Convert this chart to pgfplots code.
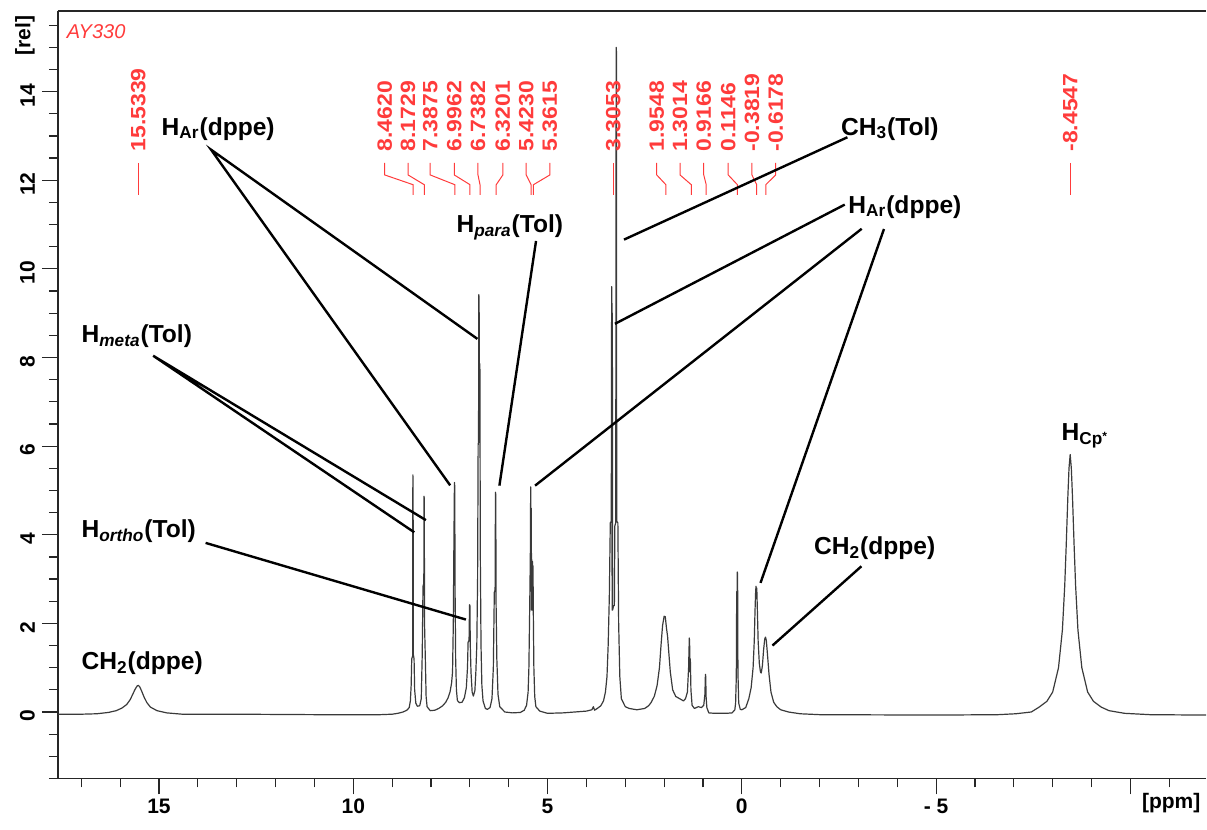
\documentclass[border=0pt]{standalone}
\usepackage{pgfplots}
\pgfplotsset{compat=1.18}
\usepackage{fontspec}
\setmainfont{Liberation Sans}
\definecolor{spec}{HTML}{3A3A3A}
\definecolor{pk}{HTML}{FF3B3B}
\newcommand{\pklab}[3]{%
  \draw[pk, line width=0.5pt] (axis cs:#1,12.39) -- (axis cs:#1,12.12) -- (axis cs:#2,11.90) -- (axis cs:#2,11.67);
  \node[pk, rotate=90, anchor=west, inner sep=0pt, font=\fontsize{11.5}{12}\selectfont\bfseries] at (axis cs:#1,12.64) {\scalebox{1}[0.9]{#3}};}
\newcommand{\lab}{\fontsize{12.3}{14}\selectfont\bfseries}
\begin{document}
\begin{tikzpicture}
\begin{axis}[
  width=574.5pt, height=384pt, scale only axis,
  xmin=-11.95, xmax=17.6, x dir=reverse,
  ymin=-1.5, ymax=15.82,
  axis x line*=bottom, axis y line*=left,
  axis line style={-, line width=0.7pt, color=black!85},
  tick align=outside,
  major tick length=8pt, minor tick length=4.5pt,
  tick style={line width=0.6pt, color=black!85},
  xtick={15,10,5,0,-5,-10},
  xticklabels={15,10,5,0,- 5,{}},
  minor xtick={-11,-10,...,17},
  ytick={0,2,...,14},
  yticklabels={0,2,4,6,8,10,12,14},
  minor ytick={-1.5,-1,...,15.5},
  ticklabel style={font=\fontsize{10.5}{12}\selectfont\bfseries},
  xticklabel style={yshift=1.2pt},
  yticklabel style={rotate=90, anchor=south, xshift=-2pt},
  clip=false,
]
\addplot[spec, line width=0.6pt, line join=round] coordinates {
(17.6,-0.05)(17.0,-0.05)(16.6,-0.04)(16.3,-0.01)(16.1,0.03)(15.95,0.09)(15.83,0.17)(15.74,0.28)(15.67,0.41)(15.61,0.52)(15.56,0.59)(15.53,0.6)(15.49,0.56)(15.44,0.46)(15.38,0.33)(15.31,0.21)(15.22,0.11)(15.05,0.03)(14.8,-0.02)(14.4,-0.05)(13.0,-0.05)(11.0,-0.06)(9.3,-0.06)(9.0,-0.05)(8.85,-0.03)(8.72,0.0)(8.62,0.04)(8.56,0.1)(8.53,0.25)(8.51,0.6)(8.495,1.2)(8.472,1.26)(8.466,5.35)(8.46,5.2)(8.454,1.3)(8.435,1.2)(8.42,0.5)(8.39,0.2)(8.35,0.13)(8.29,0.14)(8.25,0.3)(8.225,1.3)(8.205,2.84)(8.184,2.9)(8.178,4.87)(8.172,4.8)(8.166,2.0)(8.145,1.2)(8.125,0.35)(8.10,0.12)(8.02,0.03)(7.9,0.04)(7.8,0.08)(7.7,0.14)(7.62,0.22)(7.56,0.32)(7.51,0.45)(7.47,0.65)(7.445,0.9)(7.425,2.0)(7.41,3.8)(7.396,5.18)(7.389,5.1)(7.378,2.6)(7.365,1.2)(7.345,0.5)(7.32,0.26)(7.27,0.21)(7.2,0.22)(7.14,0.32)(7.09,0.55)(7.06,1.0)(7.045,1.57)(7.02,1.62)(7.007,2.42)(6.998,2.4)(6.988,1.5)(6.97,0.9)(6.94,0.45)(6.91,0.36)(6.87,0.48)(6.845,0.9)(6.82,1.52)(6.80,3.0)(6.786,6.03)(6.776,6.1)(6.768,9.42)(6.761,9.3)(6.754,7.0)(6.748,7.87)(6.741,7.8)(6.73,3.5)(6.712,1.5)(6.69,0.6)(6.66,0.25)(6.6,0.08)(6.55,0.06)(6.48,0.1)(6.43,0.3)(6.395,1.0)(6.37,2.7)(6.35,2.75)(6.34,4.96)(6.332,4.9)(6.325,2.5)(6.305,1.2)(6.275,0.4)(6.23,0.12)(6.1,0.0)(5.9,-0.02)(5.7,-0.01)(5.6,0.04)(5.54,0.15)(5.5,0.45)(5.48,1.0)(5.46,2.3)(5.443,3.5)(5.434,5.08)(5.426,3.0)(5.419,4.6)(5.411,2.3)(5.404,3.44)(5.396,2.3)(5.389,3.4)(5.381,2.3)(5.374,3.3)(5.366,2.24)(5.352,1.0)(5.33,0.35)(5.30,0.12)(5.2,0.02)(5.0,-0.03)(4.6,-0.02)(4.3,0.0)(4.0,0.02)(3.86,0.05)(3.82,0.12)(3.79,0.04)(3.72,0.08)(3.63,0.14)(3.56,0.25)(3.51,0.45)(3.47,0.8)(3.44,1.5)(3.41,2.6)(3.385,4.27)(3.36,4.3)(3.35,9.6)(3.344,9.5)(3.338,2.3)(3.332,9.0)(3.326,2.3)(3.30,2.4)(3.28,2.4)(3.268,4.2)(3.245,4.27)(3.234,15.0)(3.227,14.9)(3.22,4.3)(3.19,4.27)(3.17,2.0)(3.14,0.8)(3.1,0.3)(3.0,0.12)(2.9,0.08)(2.7,0.05)(2.5,0.08)(2.4,0.14)(2.33,0.22)(2.25,0.36)(2.18,0.6)(2.12,1.0)(2.08,1.5)(2.04,1.95)(2.0,2.16)(1.97,2.15)(1.94,1.9)(1.91,1.7)(1.88,1.35)(1.84,0.9)(1.78,0.5)(1.7,0.35)(1.6,0.3)(1.5,0.25)(1.45,0.3)(1.40,0.45)(1.37,1.0)(1.352,1.67)(1.344,1.6)(1.336,0.9)(1.325,1.2)(1.31,0.5)(1.28,0.15)(1.22,0.08)(1.12,0.12)(1.04,0.1)(0.98,0.15)(0.95,0.4)(0.937,0.85)(0.929,0.8)(0.92,0.35)(0.9,0.1)(0.85,-0.02)(0.7,-0.03)(0.4,-0.03)(0.25,-0.02)(0.18,0.05)(0.16,0.2)(0.142,0.8)(0.132,2.72)(0.126,2.7)(0.12,1.0)(0.116,3.16)(0.109,3.1)(0.1,0.9)(0.08,0.2)(0.04,0.06)(0.0,0.05)(-0.1,0.1)(-0.18,0.3)(-0.24,0.55)(-0.29,1.0)(-0.32,1.6)(-0.34,2.3)(-0.355,2.7)(-0.365,2.84)(-0.375,2.72)(-0.385,2.8)(-0.4,2.3)(-0.42,1.6)(-0.45,1.1)(-0.48,0.9)(-0.5,0.88)(-0.53,1.05)(-0.56,1.4)(-0.59,1.65)(-0.61,1.69)(-0.63,1.62)(-0.66,1.3)(-0.7,0.85)(-0.75,0.45)(-0.82,0.22)(-0.9,0.12)(-1.0,0.05)(-1.2,0.0)(-1.5,-0.04)(-2.0,-0.06)(-5.0,-0.07)(-6.6,-0.06)(-7.05,-0.04)(-7.45,0.0)(-7.65,0.11)(-7.85,0.24)(-8.0,0.45)(-8.15,1.0)(-8.25,1.85)(-8.31,2.85)(-8.35,3.8)(-8.39,4.85)(-8.42,5.5)(-8.45,5.81)(-8.48,5.5)(-8.51,4.85)(-8.55,3.8)(-8.59,2.85)(-8.65,1.85)(-8.75,1.0)(-8.9,0.45)(-9.05,0.24)(-9.25,0.11)(-9.45,0.03)(-9.85,-0.03)(-10.5,-0.06)(-11.95,-0.07)
};
% top border
\draw[line width=0.7pt, black!85] (rel axis cs:0,1) -- (rel axis cs:1,1);
% peak-pick labels
\pklab{15.5339}{15.5339}{15.5339}
\pklab{9.19}{8.462}{8.4620}
\pklab{8.59}{8.1729}{8.1729}
\pklab{8.02}{7.3875}{7.3875}
\pklab{7.40}{6.9962}{6.9962}
\pklab{6.79}{6.7382}{6.7382}
\pklab{6.15}{6.3201}{6.3201}
\pklab{5.55}{5.4230}{5.4230}
\pklab{4.94}{5.3615}{5.3615}
\pklab{3.3053}{3.3053}{3.3053}
\pklab{2.19}{1.9548}{1.9548}
\pklab{1.59}{1.3014}{1.3014}
\pklab{0.98}{0.9166}{0.9166}
\pklab{0.35}{0.1146}{0.1146}
\pklab{-0.26}{-0.3819}{-0.3819}
\pklab{-0.87}{-0.6178}{-0.6178}
\pklab{-8.4547}{-8.4547}{-8.4547}
\node[pk, anchor=base west, inner sep=0pt, font=\fontsize{10}{12}\selectfont\itshape] at (axis cs:17.38,15.21) {AY330};
% assignment labels
\draw[black, line width=1.2pt] (axis cs:6.805,8.42) -- (axis cs:13.66,12.69) -- (axis cs:7.506,5.115);
\node[anchor=base west, inner sep=0pt, font=\lab] at (axis cs:14.94,13.02) {H\textsubscript{Ar}(dppe)};
\draw[black, line width=1.2pt] (axis cs:8.43,4.055) -- (axis cs:15.15,8.04) -- (axis cs:8.13,4.33);
\node[anchor=base west, inner sep=0pt, font=\lab] at (axis cs:17.0,8.33) {H\textsubscript{\itshape meta}(Tol)};
\draw[black, line width=1.2pt] (axis cs:13.80,3.816) -- (axis cs:7.10,2.086);
\node[anchor=base west, inner sep=0pt, font=\lab] at (axis cs:17.0,3.94) {H\textsubscript{\itshape ortho}(Tol)};
\node[anchor=base west, inner sep=0pt, font=\lab] at (axis cs:17.0,0.96) {CH\textsubscript{2}(dppe)};
\draw[black, line width=1.2pt] (axis cs:5.296,10.63) -- (axis cs:6.239,5.108);
\node[anchor=base west, inner sep=0pt, font=\lab] at (axis cs:7.352,10.81) {H\textsubscript{\itshape para}(Tol)};
\draw[black, line width=1.2pt] (axis cs:-2.717,12.97) -- (axis cs:3.033,10.66);
\node[anchor=base west, inner sep=0pt, font=\lab] at (axis cs:-2.545,13.02) {CH\textsubscript{3}(Tol)};
\draw[black, line width=1.2pt] (axis cs:-2.648,11.45) -- (axis cs:3.265,8.76);
\draw[black, line width=1.2pt] (axis cs:-3.085,10.905) -- (axis cs:5.321,5.108);
\draw[black, line width=1.2pt] (axis cs:-3.658,10.90) -- (axis cs:-0.481,2.914);
\node[anchor=base west, inner sep=0pt, font=\lab] at (axis cs:-2.733,11.26) {H\textsubscript{Ar}(dppe)};
\draw[black, line width=1.2pt] (axis cs:-3.077,3.288) -- (axis cs:-0.789,1.50);
\node[anchor=base west, inner sep=0pt, font=\lab] at (axis cs:-1.851,3.552) {CH\textsubscript{2}(dppe)};
\node[anchor=base west, inner sep=0pt, font=\lab] at (axis cs:-8.219,6.13) {H\textsubscript{Cp\raisebox{0.45ex}{\fontsize{6}{6}\selectfont *}}};
% axis unit labels
\node[rotate=90, font=\fontsize{10.5}{12}\selectfont\bfseries] at (axis cs:18.45,15.26) {[rel]};
\node[font=\fontsize{10.5}{12}\selectfont\bfseries] at (axis cs:-11.05,-2.05) {[ppm]};
\end{axis}
\path ([xshift=-29pt,yshift=-25.5pt]current axis.south west) rectangle ([yshift=5.5pt]current axis.north east);
\end{tikzpicture}
\end{document}
